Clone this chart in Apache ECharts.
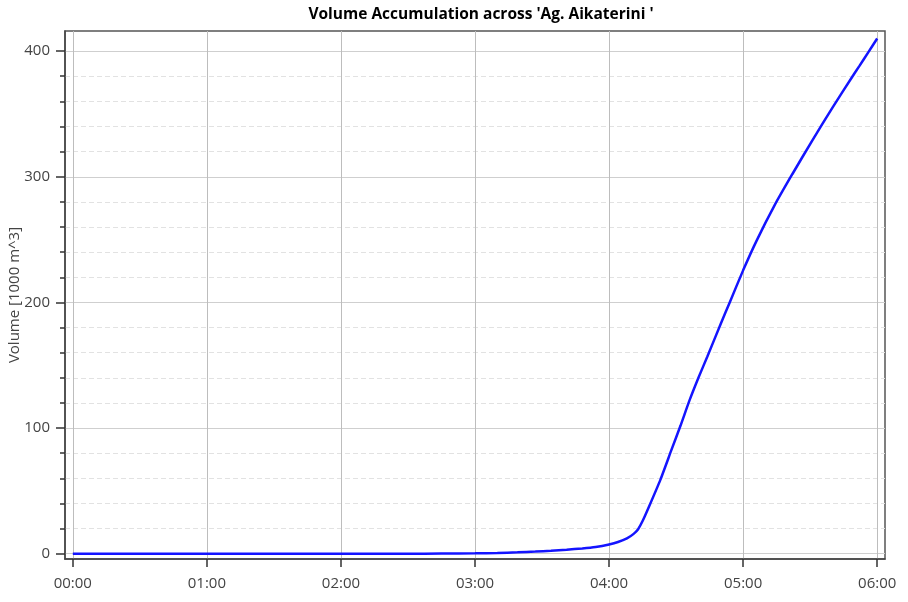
<!DOCTYPE html>
<html>
<head>
<meta charset="utf-8">
<script src="https://cdn.jsdelivr.net/npm/echarts@6/dist/echarts.min.js"></script>
<style>html,body{margin:0;padding:0;background:#fff;}#c{width:908px;height:602px;}</style>
</head>
<body>
<div id="c"></div>
<script>
// Time in minutes after 00:00
var minutes = [0, 60, 120, 150, 165, 180, 190, 199, 207, 214, 221, 228, 234, 240, 244, 248, 251, 253, 255, 258, 263, 268, 272, 276, 280, 284, 290, 294, 300, 306, 314, 322, 331, 340, 349, 352, 356, 360];
// Accumulated volume [1000 m^3]
var volume = [0, 0, 0, 0, 0.1, 0.3, 0.6, 1.1, 1.7, 2.4, 3.2, 4.2, 5.4, 7.4, 9.3, 12.2, 15.8, 19.5, 26, 38, 59, 83, 102, 122, 140, 157, 183, 200, 225.5, 249, 277, 302, 329, 355, 380, 388, 399, 410];
var xTickMinutes = [0, 60, 120, 180, 240, 300, 360];
var yTickValues = [0, 100, 200, 300, 400];
var titleText = "Volume Accumulation across 'Ag. Aikaterini '";
var yAxisName = 'Volume [1000 m^3]';

function fmt(m) {
  var h = Math.floor(m / 60), mm = Math.round(m - h * 60);
  return (h < 10 ? '0' : '') + h + ':' + (mm < 10 ? '0' : '') + mm;
}

var data = minutes.map(function (m, i) { return [m, volume[i]]; });

var chart = echarts.init(document.getElementById('c'), null, {renderer: 'canvas'});
chart.setOption({
  animation: false,
  title: {
    text: titleText,
    left: 476, top: 2, textAlign: 'center',
    textStyle: {fontFamily: 'Open Sans', fontWeight: 'bold', fontSize: 15.5, color: '#000'}
  },
  grid: {
    left: 65, top: 31, right: 23, bottom: 43,
    outerBoundsMode: 'none', containLabel: false,
    show: true, borderColor: '#555', borderWidth: 1.5, backgroundColor: '#fff'
  },
  xAxis: {
    type: 'value', min: -3.5, max: 363.5,
    axisLine: {show: true, onZero: false, lineStyle: {color: '#444', width: 1.5}},
    axisTick: {show: true, length: 8, customValues: xTickMinutes, lineStyle: {color: '#333', width: 1.5}},
    axisLabel: {customValues: xTickMinutes, formatter: function (v) { return fmt(v); }, margin: 17,
      fontFamily: 'Open Sans', fontSize: 15, color: '#444'},
    splitLine: {show: true, lineStyle: {color: '#bdbdbd', width: 1}}
  },
  yAxis: {
    type: 'value', min: -4.2, max: 416,
    name: yAxisName, nameLocation: 'middle', nameGap: 43, nameMoveOverlap: false,
    nameTextStyle: {fontFamily: 'Open Sans', fontSize: 15, color: '#444'},
    axisLine: {show: true, onZero: false, lineStyle: {color: '#444', width: 1.5}},
    axisTick: {show: true, length: 9, customValues: yTickValues, lineStyle: {color: '#333', width: 1.5}},
    minorTick: {show: true, splitNumber: 5, length: 5, lineStyle: {color: '#333', width: 1.5}},
    axisLabel: {customValues: yTickValues, margin: 15, fontFamily: 'Open Sans', fontSize: 15, color: '#444'},
    splitLine: {show: true, lineStyle: {color: '#cfcfcf', width: 1}},
    minorSplitLine: {show: true, lineStyle: {color: '#e2e2e2', width: 1, type: [5, 3]}}
  },
  series: [{
    type: 'line', data: data, showSymbol: false, smooth: 0.2,
    lineStyle: {color: '#1414ff', width: 2.5}
  }]
});
</script>
</body>
</html>
